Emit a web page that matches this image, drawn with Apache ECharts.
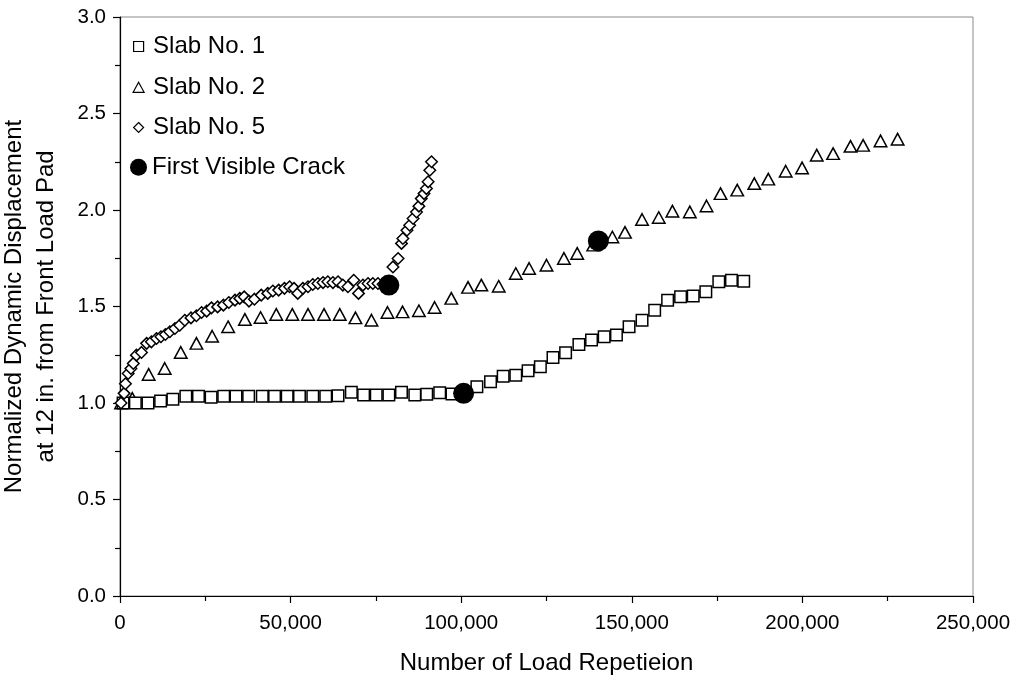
<!DOCTYPE html>
<html>
<head>
<meta charset="utf-8">
<script src="https://cdn.jsdelivr.net/npm/echarts@6/dist/echarts.min.js"></script>
<style>
html,body{margin:0;padding:0;background:#fff;}
#chart{width:1016px;height:682px;}
</style>
</head>
<body>
<div id="chart"></div>
<script>
// ---- Data ----
var slab1X = [900, 4500, 8200, 11900, 15500, 19300, 23000, 26700, 30400, 34000, 37700, 41700, 45300, 49000, 52600, 56500, 60300, 63900, 67800, 71400, 75100, 78800, 82500, 86400, 89900, 93700, 97300, 100900, 104600, 108600, 112300, 116000, 119600, 123200, 126900, 130600, 134500, 138200, 141900, 145500, 149200, 153000, 156700, 160500, 164300, 168000, 171700, 175500, 179200, 182800];
var slab1Y = [1.00, 1.00, 1.00, 1.01, 1.02, 1.035, 1.035, 1.03, 1.035, 1.035, 1.035, 1.035, 1.035, 1.035, 1.035, 1.035, 1.035, 1.037, 1.056, 1.042, 1.042, 1.042, 1.056, 1.042, 1.045, 1.053, 1.046, 1.05, 1.084, 1.110, 1.139, 1.144, 1.167, 1.188, 1.236, 1.260, 1.303, 1.326, 1.343, 1.352, 1.395, 1.429, 1.481, 1.533, 1.550, 1.554, 1.576, 1.628, 1.636, 1.631];

var slab2X = [300, 3600, 8400, 13100, 17800, 22400, 27000, 31700, 36600, 41200, 45800, 50500, 55100, 59800, 64400, 69000, 73700, 78400, 82800, 87600, 92200, 97100, 102000, 105900, 111000, 116000, 119900, 125000, 130100, 134000, 138700, 144300, 148000, 153000, 157900, 161900, 167000, 171900, 176000, 180900, 185900, 190000, 195100, 199900, 204200, 209000, 214100, 217800, 222900, 227900];
var slab2Y = [1.00, 1.024, 1.148, 1.179, 1.262, 1.309, 1.346, 1.395, 1.433, 1.443, 1.459, 1.459, 1.459, 1.459, 1.459, 1.441, 1.429, 1.469, 1.472, 1.478, 1.495, 1.542, 1.599, 1.611, 1.605, 1.671, 1.697, 1.714, 1.749, 1.775, 1.818, 1.860, 1.884, 1.951, 1.961, 1.994, 1.990, 2.021, 2.085, 2.103, 2.137, 2.160, 2.201, 2.218, 2.284, 2.292, 2.330, 2.335, 2.358, 2.367];

var slab5X = [300, 1200, 1600, 2400, 3200, 3900, 4800, 6300, 7800, 9200, 10700, 12000, 13300, 14600, 16100, 17500, 19000, 20800, 22400, 23900, 25400, 26800, 28600, 30300, 31900, 33700, 35100, 36400, 37800, 39400, 41400, 43300, 44800, 46500, 48200, 49700, 51000, 52100, 53600, 55100, 56500, 58000, 59500, 60900, 62400, 63900, 65300, 66800, 68500, 69900, 71200, 72700, 74100, 75600, 77100, 78400, 80000, 81500, 82500, 82900, 84100, 84900, 85900, 86900, 87600, 88300, 89100, 89800, 90300, 90800, 91300];
var slab5Y = [1.00, 1.05, 1.10, 1.153, 1.179, 1.205, 1.248, 1.262, 1.309, 1.317, 1.334, 1.343, 1.355, 1.369, 1.386, 1.403, 1.429, 1.441, 1.452, 1.469, 1.476, 1.493, 1.498, 1.507, 1.521, 1.533, 1.542, 1.550, 1.528, 1.538, 1.559, 1.568, 1.580, 1.585, 1.594, 1.602, 1.594, 1.568, 1.594, 1.602, 1.614, 1.619, 1.624, 1.628, 1.624, 1.628, 1.611, 1.602, 1.636, 1.568, 1.611, 1.619, 1.619, 1.619, 1.615, 1.611, 1.705, 1.749, 1.827, 1.852, 1.895, 1.921, 1.956, 1.990, 2.020, 2.059, 2.085, 2.111, 2.146, 2.206, 2.250];

var crackX = [100700, 140200, 78800];
var crackY = [1.05, 1.84, 1.611];

var seriesNames = ['Slab No. 1', 'Slab No. 2', 'Slab No. 5', 'First Visible Crack'];
var xTickValues = [0, 50000, 100000, 150000, 200000, 250000];
var yTickValues = [0, 0.5, 1.0, 1.5, 2.0, 2.5, 3.0];
var xAxisTitle = 'Number of Load Repetieion';
var yAxisTitle = 'Normalized Dynamic Displacement\nat 12 in. from Front Load Pad';

function pairs(xs, ys) { return xs.map(function (x, i) { return [x, ys[i]]; }); }

var FONT = '"Liberation Sans", Arial, sans-serif';
var hollow = { color: '#ffffff', borderColor: '#000000', borderWidth: 1.5, opacity: 1 };

function legendFor(name, icon, left, top, w, h, padLeft, style) {
  return {
    data: [{ name: name, icon: icon, itemStyle: style }],
    left: left, top: top, padding: 0,
    itemWidth: w, itemHeight: h,
    selectedMode: false,
    textStyle: { fontFamily: FONT, fontSize: 24, color: '#000', padding: [0, 0, 0, padLeft] }
  };
}

var chart = echarts.init(document.getElementById('chart'), null, { renderer: 'canvas' });
chart.setOption({
  animation: false,
  backgroundColor: '#ffffff',
  textStyle: { fontFamily: FONT },
  grid: { left: 120, right: 43, top: 17, bottom: 86, show: true, borderColor: '#8a8a8a', borderWidth: 1,
    containLabel: false, outerBoundsMode: 'none' },
  legend: [
    legendFor(seriesNames[0], 'rect', 133, 34.5, 10, 10, 4.5, { color: '#fff', borderColor: '#000', borderWidth: 1.2, opacity: 1 }),
    legendFor(seriesNames[1], 'triangle', 132.5, 75.3, 11, 10, 4, { color: '#fff', borderColor: '#000', borderWidth: 1.2, opacity: 1 }),
    legendFor(seriesNames[2], 'diamond', 133, 115.5, 10, 10, 4.5, { color: '#fff', borderColor: '#000', borderWidth: 1.2, opacity: 1 }),
    legendFor(seriesNames[3], 'circle', 130, 155.3, 17, 17, 0, { color: '#000', borderWidth: 0, opacity: 1 })
  ],
  xAxis: {
    type: 'value', min: xTickValues[0], max: xTickValues[xTickValues.length - 1], interval: xTickValues[1] - xTickValues[0],
    name: xAxisTitle, nameLocation: 'middle', nameGap: 55,
    nameTextStyle: { fontFamily: FONT, fontSize: 24, color: '#000' },
    axisLine: { onZero: false, lineStyle: { color: '#000', width: 1.2 } },
    axisTick: { show: true, length: 7, lineStyle: { color: '#000', width: 1.2 } },
    minorTick: { show: true, splitNumber: 2, length: 5, lineStyle: { color: '#000', width: 1.2 } },
    splitLine: { show: false },
    axisLabel: { fontFamily: FONT, fontSize: 20.5, color: '#000', margin: 17,
      formatter: function (v) { return v.toLocaleString('en-US'); } }
  },
  yAxis: {
    type: 'value', min: yTickValues[0], max: yTickValues[yTickValues.length - 1], interval: yTickValues[1] - yTickValues[0],
    name: yAxisTitle, nameLocation: 'middle', nameGap: 58, nameRotate: 90,
    nameTextStyle: { fontFamily: FONT, fontSize: 24, color: '#000', lineHeight: 31.7, align: 'center' },
    axisLine: { onZero: false, lineStyle: { color: '#000', width: 1.2 } },
    axisTick: { show: true, length: 7, lineStyle: { color: '#000', width: 1.2 } },
    minorTick: { show: true, splitNumber: 2, length: 5, lineStyle: { color: '#000', width: 1.2 } },
    splitLine: { show: false },
    axisLabel: { fontFamily: FONT, fontSize: 20.5, color: '#000', margin: 14,
      formatter: function (v) { return v.toFixed(1); } }
  },
  series: [
    { name: seriesNames[1], type: 'scatter', symbol: 'triangle', symbolSize: [12.5, 11.5], clip: false, z: 2,
      itemStyle: hollow, data: pairs(slab2X, slab2Y) },
    { name: seriesNames[0], type: 'scatter', symbol: 'rect', symbolSize: 11.5, clip: false, z: 3,
      itemStyle: hollow, data: pairs(slab1X, slab1Y) },
    { name: seriesNames[2], type: 'scatter', symbol: 'diamond', symbolSize: 11.5, clip: false, z: 4,
      itemStyle: hollow, data: pairs(slab5X, slab5Y) },
    { name: seriesNames[3], type: 'scatter', symbol: 'circle', symbolSize: 21, clip: false, z: 5,
      itemStyle: { color: '#000', opacity: 1 }, data: pairs(crackX, crackY) }
  ]
});
</script>
</body>
</html>
